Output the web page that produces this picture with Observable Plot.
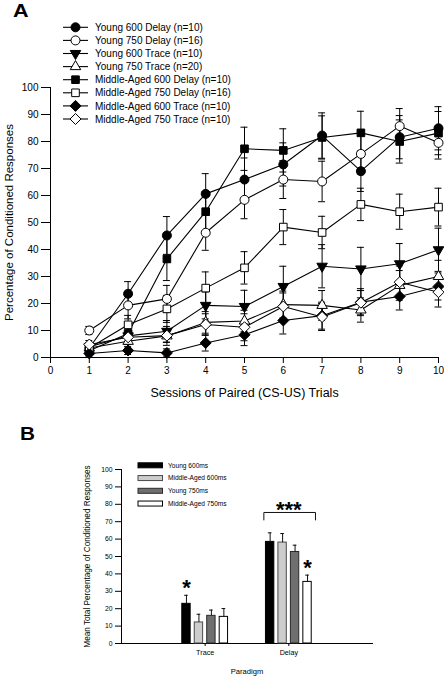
<!DOCTYPE html>
<html><head><meta charset="utf-8">
<script src="https://cdn.jsdelivr.net/npm/d3@7"></script>
<script src="https://cdn.jsdelivr.net/npm/@observablehq/plot@0.6"></script>
<style>
body{margin:0;background:#fff;}
#wrap{position:relative;width:444px;height:677px;overflow:hidden;background:#fff;}
#wrap > svg{position:absolute;left:0;}
</style></head><body><div id="wrap"></div>
<script>
// ---------- Panel A data ----------
const sessions = [1,2,3,4,5,6,7,8,9,10];
const xTicksA = [0,1,2,3,4,5,6,7,8,9,10];
const yTicksA = [0,10,20,30,40,50,60,70,80,90,100];
const seriesNames = [
  "Young 600 Delay (n=10)","Young 750 Delay (n=16)","Young 600 Trace (n=10)","Young 750 Trace (n=20)",
  "Middle-Aged 600 Delay (n=10)","Middle-Aged 750 Delay (n=16)","Middle-Aged 600 Trace (n=10)","Middle-Aged 750 Trace (n=10)"
];
const young600Delay   = [3.5, 23.6, 45.2, 60.6, 65.9, 71.5, 82.2, 69.0, 81.6, 84.9];
const young600DelaySE = [1.5, 4.5, 7, 7.5, 8, 8, 8.4, 7.5, 8, 8];
const young750Delay   = [10.0, 19.3, 21.7, 46.2, 58.4, 65.9, 65.2, 75.4, 85.7, 79.5];
const young750DelaySE = [1.5, 5, 5, 6.5, 7, 7, 7.5, 7.5, 6.5, 6];
const young600Trace   = [4.0, 8.0, 9.7, 19.3, 18.9, 26.3, 33.8, 32.8, 34.7, 39.9];
const young600TraceSE = [1.5, 3, 4, 5, 6, 7.5, 8, 8, 7.5, 8];
const young750Trace   = [3.5, 6.0, 8.0, 13.0, 13.5, 19.6, 19.3, 17.6, 26.7, 30.0];
const young750TraceSE = [1.5, 2.5, 3.5, 4, 4, 5, 5.5, 4.5, 5.5, 6];
const ma600Delay      = [2.5, 8.9, 36.5, 54.0, 77.3, 76.7, 81.5, 83.2, 80.0, 83.1];
const ma600DelaySE    = [1.5, 4, 8, 7.5, 8, 8, 8, 8, 8, 8];
const ma750Delay      = [3.5, 12.1, 18.0, 25.7, 33.2, 48.3, 46.3, 56.7, 54.0, 55.7];
const ma750DelaySE    = [1.5, 3.5, 5, 6, 6, 6.5, 6, 6, 6.5, 7];
const ma600Trace      = [1.5, 2.6, 1.7, 5.4, 8.4, 13.7, 15.5, 20.5, 22.6, 26.3];
const ma600TraceSE    = [1, 1.5, 1.5, 3, 4, 5, 5, 5, 5, 5];
const ma750Trace      = [4.8, 7.5, 8.1, 12.2, 11.2, 18.9, 15.0, 20.3, 27.9, 24.2];
const ma750TraceSE    = [1.5, 2, 2.5, 4, 5, 5, 5, 4.5, 6, 5.5];

// ---------- Panel B data ----------
const paradigms = ["Trace","Delay"];
const groups = ["Young 600ms","Middle-Aged 600ms","Young 750ms","Middle-Aged 750ms"];
const traceMeans = [22.8, 12.1, 15.9, 15.3];
const traceSE    = [4.9, 4.7, 3.3, 4.8];
const delayMeans = [58.4, 58.0, 52.6, 35.4];
const delaySE    = [5.2, 5.2, 3.9, 3.9];
const yTicksB = [0,10,20,30,40,50,60,70,80,90,100];
const starMarks = [{paradigm:"Trace", group:0, label:"*"}, {paradigm:"Delay", group:3, label:"*"}];
const bracketMarks = [{paradigm:"Delay", label:"***", level:75.3, drop:4.3}];

// ---------- styling ----------
const FONT = '"Liberation Sans", Arial, Helvetica, sans-serif';
const sqrt3 = Math.sqrt(3);
const triangleDown = {draw(ctx, size){ const y = Math.sqrt(size/(sqrt3*3)); ctx.moveTo(0, 2*y); ctx.lineTo(-sqrt3*y, -y); ctx.lineTo(sqrt3*y, -y); ctx.closePath(); }};
const triangleUp = {draw(ctx, size){ const y = -Math.sqrt(size/(sqrt3*3)); ctx.moveTo(0, 2*y); ctx.lineTo(-sqrt3*y, -y); ctx.lineTo(sqrt3*y, -y); ctx.closePath(); }};
const diamond = {draw(ctx, size){ const h = Math.sqrt(size/2); ctx.moveTo(0,-h); ctx.lineTo(h,0); ctx.lineTo(0,h); ctx.lineTo(-h,0); ctx.closePath(); }};
const square = {draw(ctx, size){ const s = Math.sqrt(size)/2; ctx.rect(-s,-s,2*s,2*s); }};
const circle = {draw(ctx, size){ const r = Math.sqrt(size/Math.PI); ctx.moveTo(r,0); ctx.arc(0,0,r,0,2*Math.PI); }};

const seriesDefs = [
  {name:seriesNames[0], mean:young600Delay, se:young600DelaySE, symbol:circle, fill:"black", r:4.5},
  {name:seriesNames[1], mean:young750Delay, se:young750DelaySE, symbol:circle, fill:"white", r:4.5},
  {name:seriesNames[2], mean:young600Trace, se:young600TraceSE, symbol:triangleDown, fill:"black", r:3.9},
  {name:seriesNames[3], mean:young750Trace, se:young750TraceSE, symbol:triangleUp, fill:"white", r:3.9},
  {name:seriesNames[4], mean:ma600Delay, se:ma600DelaySE, symbol:square, fill:"black", r:4.3},
  {name:seriesNames[5], mean:ma750Delay, se:ma750DelaySE, symbol:square, fill:"white", r:4.3},
  {name:seriesNames[6], mean:ma600Trace, se:ma600TraceSE, symbol:diamond, fill:"black", r:4.4},
  {name:seriesNames[7], mean:ma750Trace, se:ma750TraceSE, symbol:diamond, fill:"white", r:4.4}
];
const rowsA = seriesDefs.flatMap(s => sessions.map((x,i) => ({series:s.name, x, y:s.mean[i], se:s.se[i]})));
const capA = 0.09;

const plotA = Plot.plot({
  width:444, height:400, marginLeft:50, marginRight:6, marginTop:87, marginBottom:43,
  style:{fontFamily:FONT, fontSize:"10px", color:"#000", background:"transparent", overflow:"visible"},
  x:{domain:[0,10], ticks:xTicksA, tickFormat:d=>String(d), tickSize:6, tickPadding:3, line:true, label:null},
  y:{domain:[0,100], ticks:yTicksA, tickFormat:d=>String(d), tickSize:9, tickPadding:3, line:true, label:null},
  marks:[
    Plot.line(rowsA, {x:"x", y:"y", z:"series", stroke:"black", strokeWidth:1.1}),
    Plot.ruleX(rowsA, {x:"x", y1:d=>d.y-d.se, y2:d=>d.y+d.se, stroke:"black", strokeWidth:1}),
    Plot.ruleY(rowsA, {y:d=>d.y+d.se, x1:d=>d.x-capA, x2:d=>d.x+capA, stroke:"black", strokeWidth:1}),
    Plot.ruleY(rowsA, {y:d=>d.y-d.se, x1:d=>d.x-capA, x2:d=>d.x+capA, stroke:"black", strokeWidth:1}),
    ...seriesDefs.map(s => Plot.dot(rowsA.filter(r => r.series === s.name), {x:"x", y:"y", symbol:s.symbol, r:s.r, fill:s.fill, stroke:"black", strokeWidth:1})),
    Plot.text(["Percentage of Conditioned Responses"], {text:d=>d, frameAnchor:"left", textAnchor:"middle", lineAnchor:"middle", dx:-41.5, rotate:-90, fontSize:11.5, fill:"black"}),
    Plot.text(["Sessions of Paired (CS-US) Trials"], {text:d=>d, frameAnchor:"bottom", textAnchor:"middle", lineAnchor:"middle", dy:35, fontSize:12.5, fill:"black"})
  ]
});
plotA.style.top = "0px";

// ---------- Panel B ----------
const groupOffset = gi => (gi - 1.5) * 0.149;
const halfBar = 0.05;
const meansB = {Trace:traceMeans, Delay:delayMeans};
const seB = {Trace:traceSE, Delay:delaySE};
const rowsB = paradigms.flatMap((p, pi) => groups.map((g, gi) => ({
  paradigm:p, group:g, gi, cx:(pi+1) + groupOffset(gi), mean:meansB[p][gi], se:seB[p][gi]
})));
const groupFill = ["#000000", "#cdcdcd", "#6f6f6f", "#ffffff"];
const groupStroke = ["#000000", "#4a4a4a", "#2a2a2a", "#000000"];
const capB = 0.022;
const findRow = (p, gi) => rowsB.find(r => r.paradigm === p && r.gi === gi);
const starRows = starMarks.map(s => { const r = findRow(s.paradigm, s.group); return {x:r.cx, y:r.mean + r.se + 4, label:s.label}; });
const bracketRows = bracketMarks.flatMap(b => {
  const first = findRow(b.paradigm, 0), last = findRow(b.paradigm, groups.length - 1);
  const x1 = first.cx - 0.075, x2 = last.cx + 0.095;
  return [{x:x1, y:b.level - b.drop}, {x:x1, y:b.level}, {x:x2, y:b.level}, {x:x2, y:b.level - b.drop}];
});
const bracketLabels = bracketMarks.map(b => ({x:paradigms.indexOf(b.paradigm) + 1, y:b.level + 1.2, label:b.label}));

const plotB = Plot.plot({
  width:444, height:277, marginLeft:121, marginRight:72, marginTop:69, marginBottom:34,
  style:{fontFamily:FONT, fontSize:"6.8px", color:"#000", background:"transparent", overflow:"visible"},
  x:{domain:[0,3], ticks:[1,2], tickFormat:d=>paradigms[d-1], tickSize:3, tickPadding:3, line:true, label:null},
  y:{domain:[0,100], ticks:yTicksB, tickFormat:d=>String(d), tickSize:6, tickPadding:3, line:true, label:null},
  marks:[
    ...groups.map((g, gi) => Plot.rectY(rowsB.filter(r => r.gi === gi), {
      x1:d=>d.cx-halfBar, x2:d=>d.cx+halfBar, y1:0, y2:"mean", fill:groupFill[gi], stroke:groupStroke[gi], strokeWidth:1
    })),
    Plot.ruleX(rowsB, {x:"cx", y1:"mean", y2:d=>d.mean+d.se, stroke:"#111", strokeWidth:1}),
    Plot.ruleY(rowsB, {y:d=>d.mean+d.se, x1:d=>d.cx-capB, x2:d=>d.cx+capB, stroke:"#111", strokeWidth:1}),
    Plot.text(starRows, {x:"x", y:"y", text:"label", fontSize:22, fontWeight:"bold", fill:"black"}),
    Plot.line(bracketRows, {x:"x", y:"y", stroke:"#111", strokeWidth:1}),
    Plot.text(bracketLabels, {x:"x", y:"y", text:"label", fontSize:22, fontWeight:"bold", fill:"black"}),
    Plot.text(["Mean Total Percentage of Conditioned Responses"], {text:d=>d, frameAnchor:"left", textAnchor:"middle", lineAnchor:"middle", dx:-34, rotate:-90, fontSize:8.2, fill:"black"}),
    Plot.text(["Paradigm"], {text:d=>d, frameAnchor:"bottom", textAnchor:"middle", lineAnchor:"middle", dy:28.4, fontSize:7.6, fill:"black"})
  ]
});
plotB.style.top = "400px";
d3.select(plotB).selectAll('[aria-label^="x-axis"] text').attr("font-size", "7.2px");

const wrap = document.getElementById("wrap");
wrap.appendChild(plotA);
wrap.appendChild(plotB);

// ---------- overlay: panel letters and legends ----------
const ov = d3.select(wrap).append("svg").attr("width",444).attr("height",677)
  .style("position","absolute").style("left","0").style("top","0").style("pointer-events","none")
  .attr("font-family", FONT);
ov.append("text").attr("x",13).attr("y",17).attr("font-size",18).attr("font-weight",900)
  .attr("transform","translate(13,17) scale(1.2,1) translate(-13,-17)").text("A");
ov.append("text").attr("x",20).attr("y",440).attr("font-size",18).attr("font-weight",900)
  .attr("transform","translate(20,440) scale(1.15,1) translate(-20,-440)").text("B");

// legend A
seriesDefs.forEach((s, i) => {
  const cy = 27.3 + 13.1 * i;
  const g = ov.append("g");
  g.append("line").attr("x1",63).attr("x2",88).attr("y1",cy).attr("y2",cy).attr("stroke","black").attr("stroke-width",1.1);
  const p = d3.path(); s.symbol.draw(p, Math.PI * s.r * s.r);
  g.append("path").attr("d", p.toString()).attr("transform", `translate(75.5,${cy})`)
    .attr("fill", s.fill).attr("stroke","black").attr("stroke-width",1);
  g.append("text").attr("x",95).attr("y",cy).attr("dy","0.36em").attr("font-size",10).text(s.name);
});

// legend B
groups.forEach((gname, gi) => {
  const cy = 465.3 + 12.75 * gi;
  ov.append("rect").attr("x",138).attr("y",cy-2.5).attr("width",24.5).attr("height",5)
    .attr("fill",groupFill[gi]).attr("stroke",groupStroke[gi]).attr("stroke-width",1);
  ov.append("text").attr("x",168).attr("y",cy).attr("dy","0.36em").attr("font-size",6.6).text(gname);
});
</script>
</body></html>
